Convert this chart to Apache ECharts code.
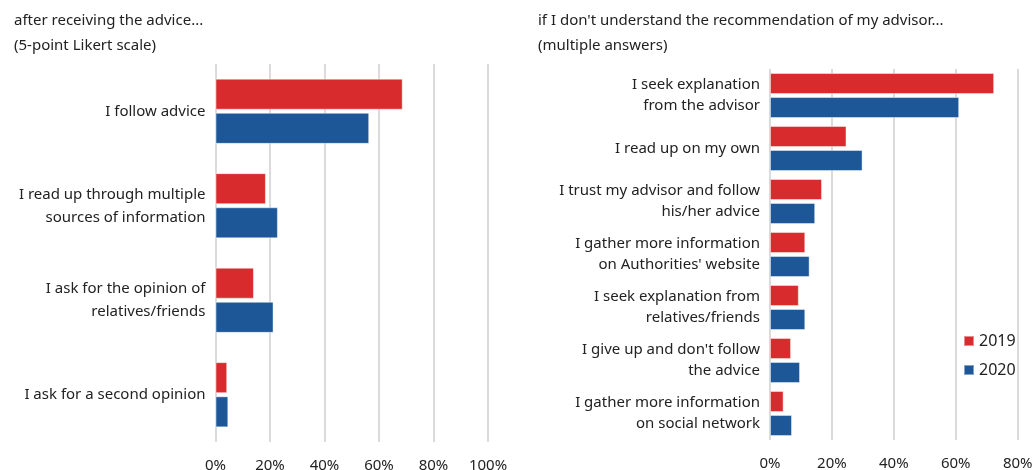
<!DOCTYPE html>
<html>
<head>
<meta charset="utf-8">
<script src="https://cdn.jsdelivr.net/npm/echarts@6/dist/echarts.min.js"></script>
<style>html,body{margin:0;padding:0;background:#fff}#c{width:1035px;height:470px}</style>
</head>
<body>
<div id="c"></div>
<script>
const leftTitle = "after receiving the advice...\n(5-point Likert scale)";
const rightTitle = "if I don't understand the recommendation of my advisor...\n(multiple answers)";
const leftCategories = ["I follow advice", "I read up through multiple\nsources of information", "I ask for the opinion of\nrelatives/friends", "I ask for a second opinion"];
const left2019 = [68.7, 18.5, 14.1, 4.3];
const left2020 = [56.4, 22.9, 21.3, 4.7];
const rightCategories = ["I seek explanation\nfrom the advisor", "I read up on my own", "I trust my advisor and follow\nhis/her advice", "I gather more information\non Authorities' website", "I seek explanation from\nrelatives/friends", "I give up and don't follow\nthe advice", "I gather more information\non social network"];
const right2019 = [72.4, 24.7, 16.8, 11.4, 9.3, 6.8, 4.4];
const right2020 = [61.1, 29.9, 14.6, 12.8, 11.4, 9.7, 7.1];
const seriesNames = ["2019", "2020"];
const leftTicks = [0, 20, 40, 60, 80, 100];
const rightTicks = [0, 20, 40, 60, 80];

const RED = '#d82b2e', BLUE = '#1d5798';
const FONT = 'Noto Sans';
const chart = echarts.init(document.getElementById('c'), null, {renderer: 'canvas'});
function xAx(idx, ticks) {
  return {
    gridIndex: idx, type: 'value', min: ticks[0], max: ticks[ticks.length - 1], interval: 20,
    axisLine: {show: false}, axisTick: {show: false},
    splitLine: {show: true, lineStyle: {color: '#cfcfcf', width: 1.5}},
    axisLabel: {formatter: '{value}%', color: '#222', fontSize: 15, fontFamily: FONT, margin: 16}
  };
}
function yAx(idx, cats, lh) {
  return {
    gridIndex: idx, type: 'category', data: cats, inverse: true,
    axisLine: {show: false}, axisTick: {show: false},
    axisLabel: {color: '#222', fontSize: 15, fontFamily: FONT, margin: 10, lineHeight: lh, align: 'right'}
  };
}
function bar(name, data, color, idx, cg, bg) {
  return {
    name: name, type: 'bar', data: data, xAxisIndex: idx, yAxisIndex: idx,
    barCategoryGap: cg, barGap: bg,
    itemStyle: {color: color, borderColor: 'rgba(255,255,255,0.45)', borderWidth: 1},
    emphasis: {disabled: true}
  };
}
chart.setOption({
  animation: false,
  title: [
    {text: leftTitle, left: 14, top: 8, padding: 0, textStyle: {fontSize: 15, fontWeight: 'normal', color: '#222', fontFamily: FONT, lineHeight: 25}},
    {text: rightTitle, left: 538, top: 8, padding: 0, textStyle: {fontSize: 15, fontWeight: 'normal', color: '#222', fontFamily: FONT, lineHeight: 25}}
  ],
  legend: {
    data: seriesNames, orient: 'vertical', left: 958, top: 328,
    icon: 'rect', itemWidth: 10, itemHeight: 10, itemGap: 13,
    textStyle: {fontSize: 16, color: '#222', fontFamily: FONT}
  },
  grid: [
    {left: 215.5, top: 64, width: 272.5, height: 378, containLabel: false, outerBoundsMode: 'none'},
    {left: 770, top: 69, width: 247.7, height: 371, containLabel: false, outerBoundsMode: 'none'}
  ],
  xAxis: [xAx(0, leftTicks), xAx(1, rightTicks)],
  yAxis: [yAx(0, leftCategories, 23), yAx(1, rightCategories, 21)],
  series: [
    bar(seriesNames[0], left2019, RED, 0, '31%', '10%'),
    bar(seriesNames[1], left2020, BLUE, 0, '31%', '10%'),
    bar(seriesNames[0], right2019, RED, 1, '15%', '14%'),
    bar(seriesNames[1], right2020, BLUE, 1, '15%', '14%')
  ]
});
</script>
</body>
</html>
